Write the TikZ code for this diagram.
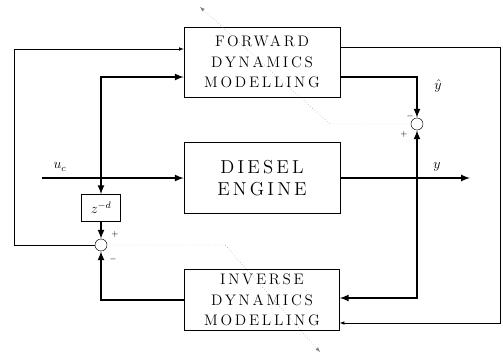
\documentclass[tikz,border=0pt]{standalone}
\usepackage{fontspec}
\usepackage{tikz}
\newfontfamily\spacedfont[LetterSpace=18]{lmroman12-regular.otf}
\newfontfamily\widefont[LetterSpace=17]{lmroman12-regular.otf}

\begin{document}
\begin{tikzpicture}[x=0.03cm, y=-0.03cm, >=latex, thin,
    blockbox/.style={draw, align=center, font=\spacedfont\fontsize{13}{17.5}\selectfont},
    heavy/.style={line width=1.6pt},
    sumpt/.style={draw, circle, inner sep=0pt, minimum size=0.36cm},
    sig/.style={font=\large},
    train/.style={dotted, gray, ->}]
    \useasboundingbox (0,0) rectangle (503,359);

    \node[blockbox, minimum width=4.68cm, minimum height=2.1cm] (fdm) at (262,62) {FORWARD\\ DYNAMICS\\ MODELLING};
    \node[blockbox, minimum width=4.68cm, minimum height=2.13cm, font=\widefont\fontsize{16}{18.7}\selectfont] (de) at (262,178) {DIESEL\\ ENGINE};
    \node[blockbox, minimum width=4.65cm, minimum height=1.83cm] (idm) at (262,300) {INVERSE\\ DYNAMICS\\ MODELLING};
    \node[draw, sig, minimum width=1.17cm, minimum height=0.81cm] (zd) at (101,208) {$z^{-d}$};
    \node[sumpt] (cl) at (101,245) {};
    \node[sumpt] (cr) at (417,124) {};

    \coordinate (uc) at (42,178);
    \coordinate (j1) at (101,178);
    \coordinate (j2) at (417,178);
    \coordinate (yout) at (470,178);
    \coordinate (lt) at (14,49);
    \coordinate (rt) at (500,323);
    \coordinate (bend1) at (330,124);
    \coordinate (tip1) at (200,7);
    \coordinate (bend2) at (225,245);
    \coordinate (tip2) at (320,352);

    % plant
    \draw[heavy, ->] (uc) -- (de);
    \draw[heavy, ->] (de) -- (yout);
    \node[sig] at (60,167) {$u_c$};
    \node[sig] at (437,167) {$y$};

    % forward model
    \draw[heavy, ->] (j1) |- ([yshift=-0.45cm]fdm.west);
    \draw[->] (cl) -| (lt) -- (fdm.west |- lt);
    \draw[heavy, ->] ([yshift=-0.45cm]fdm.east) -| (cr);
    \draw[heavy, ->] (j2) -- (cr);
    \node[sig] at (438,86) {$\hat{y}$};
    \node[font=\scriptsize, inner sep=1pt] at (410,116) {$-$};
    \node[font=\scriptsize, inner sep=1pt] at (404,134) {$+$};

    % inverse model
    \draw[heavy, ->] (j1) -- (zd);
    \draw[heavy, ->] (zd) -- (cl);
    \draw[heavy, ->] (idm.west) -| (cl);
    \draw[heavy, ->] (j2) |- ([yshift=0.06cm]idm.east);
    \draw[->] ([yshift=0.45cm]fdm.east) -| (rt) -- (idm.east |- rt);
    \node[font=\scriptsize, inner sep=1pt] at (115,234) {$+$};
    \node[font=\scriptsize, inner sep=1pt] at (113,259) {$-$};

    % training signals
    \draw[train] (cr) -- (bend1) -- (tip1);
    \draw[train] (cl) -- (bend2) -- (tip2);
\end{tikzpicture}
\end{document}
